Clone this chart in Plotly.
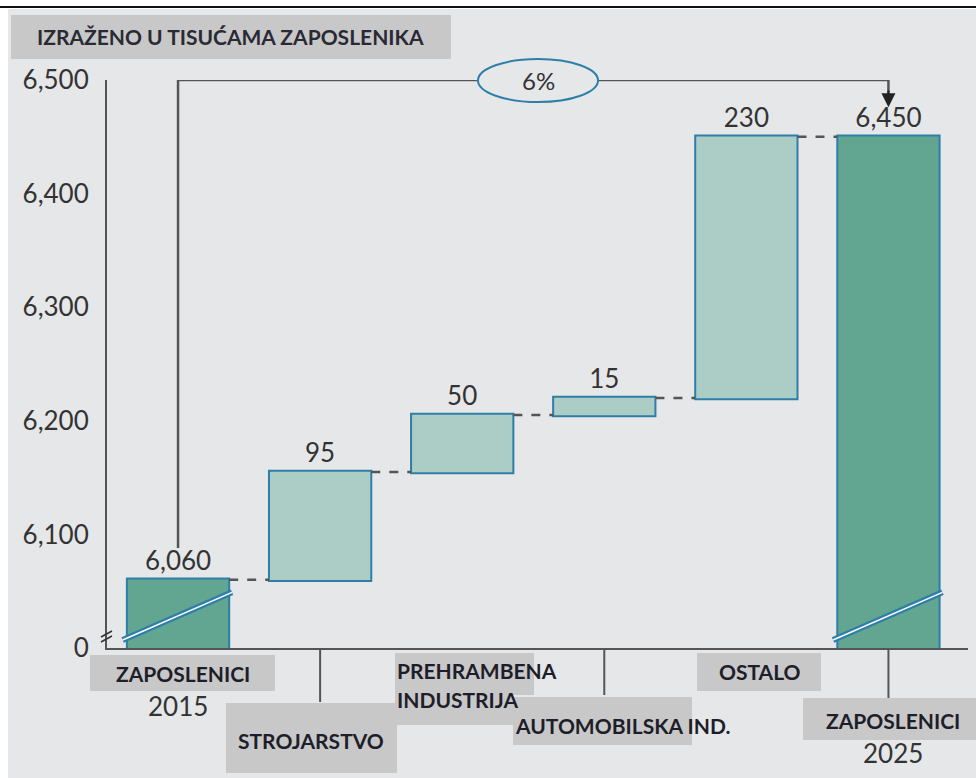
import plotly.graph_objects as go

# values in thousands of employees
categories = ["ZAPOSLENICI 2015", "STROJARSTVO", "PREHRAMBENA INDUSTRIJA",
              "AUTOMOBILSKA IND.", "OSTALO", "ZAPOSLENICI 2025"]
measures = ["absolute", "relative", "relative", "relative", "relative", "total"]
values = [6060, 95, 50, 15, 230, 0]
growth_label = "6%"

y_ticks = [6000, 6100, 6200, 6300, 6400, 6500]
y_ticktext = ["0", "6,100", "6,200", "6,300", "6,400", "6,500"]

total = sum(values)
labels = [f"{v:,}" for v in values[:-1]] + [f"{total:,}"]

W, H = 976, 778
L, R, T, B = 107, 8, 80, 130
BG = "#E6E7E9"
BOX = "#C8C8C8"
TXT = "#333333"
FONT = "Lato"


def px(x):
    return (x - L) / (W - L - R)


def py(y):
    return (H - B - y) / (H - B - T)


fig = go.Figure()

fig.add_trace(go.Waterfall(
    x=list(range(len(categories))),
    y=values,
    measure=measures,
    text=labels,
    textposition="outside",
    textfont=dict(size=26, color=TXT, family=FONT),
    width=0.72,
    increasing=dict(marker=dict(color="#ABCDC6", line=dict(color="#2E7FA8", width=2))),
    totals=dict(marker=dict(color="#62A591", line=dict(color="#2E7FA8", width=2))),
    connector=dict(mode="between", line=dict(color="#555555", width=2.5, dash="dash")),
    cliponaxis=False,
    hoverinfo="skip",
    showlegend=False,
))

# growth arrow from first to last bar
fig.add_trace(go.Scatter(
    x=[0, 0, 5, 5], y=[6088, 6500, 6500, 6485],
    mode="lines", line=dict(color="#555555", width=2.5),
    cliponaxis=False, hoverinfo="skip", showlegend=False,
))

shapes = []
# page frame
shapes.append(dict(type="rect", xref="paper", yref="paper", x0=px(8), x1=px(W), y0=py(H), y1=py(9),
                   fillcolor=BG, line=dict(width=0), layer="below"))
shapes.append(dict(type="line", xref="paper", yref="paper", x0=px(0), x1=px(W), y0=py(7), y1=py(7),
                   line=dict(color="#111111", width=2)))
# title box
shapes.append(dict(type="rect", xref="paper", yref="paper", x0=px(11), x1=px(451), y0=py(59), y1=py(15),
                   fillcolor=BOX, line=dict(width=0), layer="below"))

# axis break marks on total bars
for i, m in enumerate(measures):
    if m in ("absolute", "total"):
        for col, w in (("#2E7FA8", 6), ("white", 1.5)):
            shapes.append(dict(type="line", xref="x", yref="y", x0=i - 0.39, x1=i + 0.38,
                               y0=6007, y1=6049, line=dict(color=col, width=w)))
# break mark on y axis
for dy in (0, 5):
    shapes.append(dict(type="line", xref="paper", yref="paper", x0=px(101), x1=px(112),
                       y0=py(637 + dy), y1=py(631 + dy), line=dict(color="#333333", width=1.5)))

# category label boxes
boxes = [(90, 275, 655, 691), (226, 397, 703, 773), (395, 534, 653, 695), (395, 513, 694, 725),
         (513, 692, 697, 745), (697, 821, 653, 691), (803, 976, 698, 740)]
for x0, x1, y0, y1 in boxes:
    shapes.append(dict(type="rect", xref="paper", yref="paper", x0=px(x0), x1=px(x1), y0=py(y1), y1=py(y0),
                       fillcolor=BOX, line=dict(width=0), layer="below"))

# leader lines
for i, yend in ((1, 702), (3, 695), (5, 698)):
    shapes.append(dict(type="line", xref="x", yref="paper", x0=i, x1=i, y0=0, y1=py(yend),
                       line=dict(color="#555555", width=2)))

# ellipse for growth
shapes.append(dict(type="circle", xref="paper", yref="paper", x0=px(478), x1=px(598), y0=py(102), y1=py(59),
                   fillcolor=BG, line=dict(color="#2E7FA8", width=2), layer="above"))

fig.update_layout(shapes=shapes)

ann = []
ann.append(dict(x=px(35), y=py(37), xref="paper", yref="paper", xanchor="left", yanchor="middle",
                text="<b>IZRAŽENO U TISUĆAMA ZAPOSLENIKA</b>", showarrow=False,
                font=dict(size=21, color="#2a2a35", family=FONT)))
ann.append(dict(x=px(538), y=py(80), xref="paper", yref="paper", xanchor="center", yanchor="middle",
                text=growth_label, showarrow=False, font=dict(size=24, color=TXT, family=FONT)))
ann.append(dict(x=5, y=6476, ax=5, ay=6492, xref="x", yref="y", axref="x", ayref="y", text="",
                showarrow=True, arrowhead=2, arrowsize=1.4, arrowwidth=2, arrowcolor="#222222"))

label_pos = [
    ("<b>ZAPOSLENICI</b>", 183, 673, "center"),
    ("2015", 178, 706, "center"),
    ("<b>STROJARSTVO</b>", 311, 740, "center"),
    ("<b>PREHRAMBENA</b>", 395, 670, "left"),
    ("<b>INDUSTRIJA</b>", 395, 699, "left"),
    ("<b>AUTOMOBILSKA IND.</b>", 513, 725, "left"),
    ("<b>OSTALO</b>", 760, 671, "center"),
    ("<b>ZAPOSLENICI</b>", 893, 720, "center"),
    ("2025", 893, 753, "center"),
]
for txt, x, y, anchor in label_pos:
    bold = txt.startswith("<b>")
    ann.append(dict(x=px(x), y=py(y), xref="paper", yref="paper", xanchor=anchor, yanchor="middle",
                    text=txt, showarrow=False,
                    font=dict(size=21 if bold else 26, color="#1e1e2a" if bold else TXT, family=FONT)))

fig.update_layout(
    annotations=ann,
    width=W, height=H,
    margin=dict(l=L, r=R, t=T, b=B),
    paper_bgcolor="white",
    plot_bgcolor=BG,
    font=dict(family=FONT, color=TXT),
    xaxis=dict(range=[-0.5, 5.56], showticklabels=False, ticks="", showgrid=False, zeroline=False,
               showline=True, linecolor="#555555", linewidth=2, fixedrange=True),
    yaxis=dict(range=[6000, 6500], tickvals=y_ticks, ticktext=y_ticktext, ticks="", showgrid=False,
               zeroline=False, showline=True, linecolor="#555555", linewidth=2,
               tickfont=dict(size=26, color=TXT, family=FONT), ticklabelstandoff=11),
)

fig.write_html("out.html", config={"displayModeBar": False},
               post_script="document.body.style.margin='0px';")
